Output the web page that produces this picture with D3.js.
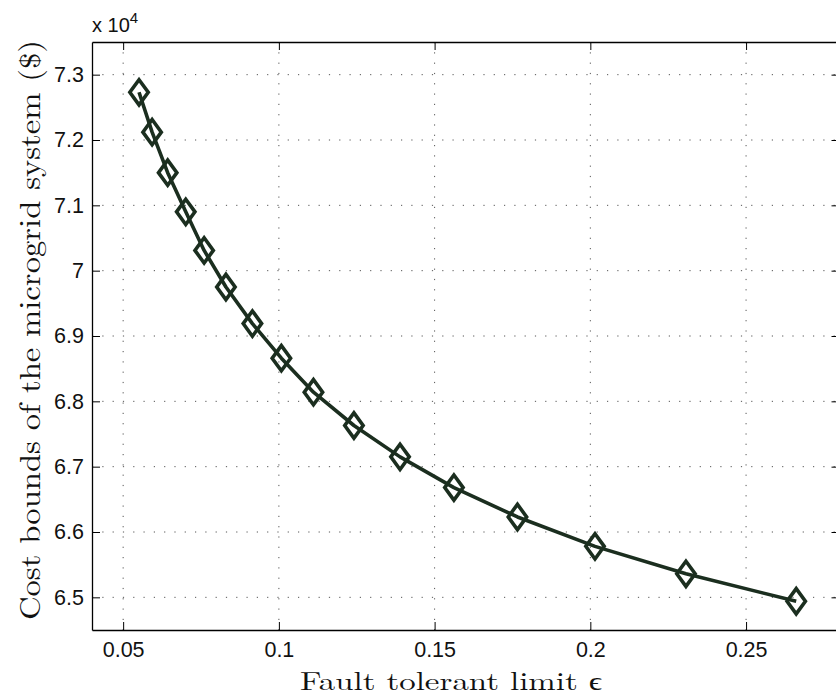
<!DOCTYPE html>
<html>
<head>
<meta charset="utf-8">
<script src="https://cdn.jsdelivr.net/npm/d3@7"></script>
<style>
  body { margin: 0; background: #fff; }
  svg { display: block; }
</style>
</head>
<body>
<div id="chart"></div>
<script>
// Fault tolerant limit vs cost bound (values in units of 10^4 $)
const epsilon = [0.0551, 0.0593, 0.0643, 0.0701, 0.0760, 0.0830, 0.0915, 0.1008,
                 0.1111, 0.1241, 0.1389, 0.1562, 0.1766, 0.2015, 0.2307, 0.2661];
const costBound = [7.273, 7.212, 7.150, 7.090, 7.031, 6.975, 6.919, 6.866,
                   6.814, 6.763, 6.715, 6.668, 6.623, 6.578, 6.536, 6.494];
const xTicks = [0.05, 0.1, 0.15, 0.2, 0.25];
const yTicks = [6.5, 6.6, 6.7, 6.8, 6.9, 7, 7.1, 7.2, 7.3];

{
    const width = 836, height = 697;
    const margin = { top: 42, left: 92, bottom: 67, right: -3.5 };
    const innerWidth = width - margin.left - margin.right;
    const innerHeight = height - margin.top - margin.bottom;
    const ink = "#1b2e1f";

    const svg = d3.select("#chart").append("svg")
        .attr("width", width)
        .attr("height", height);

    const g = svg.append("g")
        .attr("transform", `translate(${margin.left},${margin.top})`);

    const x = d3.scaleLinear().domain([0.04, 0.28]).range([0, innerWidth]);
    const y = d3.scaleLinear().domain([6.45, 7.35]).range([innerHeight, 0]);

    // dotted grid
    g.append("g").selectAll("line")
        .data(xTicks)
        .join("line")
        .attr("x1", d => x(d)).attr("x2", d => x(d))
        .attr("y1", 0).attr("y2", innerHeight)
        .attr("stroke", "#555").attr("stroke-width", 1)
        .attr("stroke-dasharray", "1.2,9.1");
    g.append("g").selectAll("line")
        .data(yTicks)
        .join("line")
        .attr("x1", 0).attr("x2", innerWidth)
        .attr("y1", d => y(d)).attr("y2", d => y(d))
        .attr("stroke", "#555").attr("stroke-width", 1)
        .attr("stroke-dasharray", "1.2,9.1");

    // axes (ticks point inward, box style)
    const tickLen = 8;
    const fmt = d => String(+d.toFixed(2));
    const font = "'Liberation Sans', Arial, Helvetica, sans-serif";

    const xAxis = g.append("g")
        .attr("transform", `translate(0,${innerHeight})`)
        .call(d3.axisBottom(x).tickValues(xTicks).tickFormat(fmt)
            .tickSizeInner(-tickLen).tickSizeOuter(0).tickPadding(12));
    const xTop = g.append("g")
        .call(d3.axisTop(x).tickValues(xTicks).tickFormat("")
            .tickSizeInner(-tickLen).tickSizeOuter(0));
    const yAxis = g.append("g")
        .call(d3.axisLeft(y).tickValues(yTicks).tickFormat(fmt)
            .tickSizeInner(-tickLen).tickSizeOuter(0).tickPadding(8));
    const yRight = g.append("g")
        .attr("transform", `translate(${innerWidth},0)`)
        .call(d3.axisRight(y).tickValues(yTicks).tickFormat("")
            .tickSizeInner(-tickLen).tickSizeOuter(0));

    [xAxis, xTop, yAxis, yRight].forEach(a => {
        a.select(".domain").attr("stroke", "#000").attr("stroke-width", 1.3);
        a.selectAll(".tick line").attr("stroke", "#000").attr("stroke-width", 1);
        a.selectAll("text")
            .attr("fill", "#111")
            .style("font-family", font)
            .style("font-size", "21.5px");
    });

    // exponent label
    const expo = svg.append("text")
        .attr("x", margin.left)
        .attr("y", 32)
        .attr("fill", "#111")
        .style("font-family", font)
        .style("font-size", "20px");
    expo.append("tspan").text("x 10");
    expo.append("tspan").attr("dy", -9).style("font-size", "15px").text("4");

    // curve
    const pts = epsilon.map((e, i) => [e, costBound[i]]);
    g.append("path")
        .datum(pts)
        .attr("fill", "none")
        .attr("stroke", ink)
        .attr("stroke-width", 3.6)
        .attr("stroke-linejoin", "round")
        .attr("d", d3.line().x(d => x(d[0])).y(d => y(d[1])));

    // diamond markers
    const hw = 9.2, hh = 12.6;
    g.append("g").selectAll("path")
        .data(pts)
        .join("path")
        .attr("transform", d => `translate(${x(d[0])},${y(d[1])})`)
        .attr("d", `M0,${-hh}L${hw},0L0,${hh}L${-hw},0Z`)
        .attr("fill", "none")
        .attr("stroke", ink)
        .attr("stroke-width", 3.6)
        .attr("stroke-linejoin", "miter");

    // axis titles
    const serif = "'Latin Modern Roman', 'CMU Serif', 'Liberation Serif', 'DejaVu Serif', serif";
    svg.append("text")
        .attr("x", 451)
        .attr("y", 690)
        .attr("text-anchor", "middle")
        .attr("fill", "#111")
        .attr("textLength", 302)
        .attr("lengthAdjust", "spacingAndGlyphs")
        .style("font-family", serif)
        .style("font-size", "26px")
        .text("Fault tolerant limit \u03F5");

    svg.append("text")
        .attr("transform", "translate(40,330) rotate(-90)")
        .attr("text-anchor", "middle")
        .attr("fill", "#111")
        .attr("textLength", 580)
        .attr("lengthAdjust", "spacingAndGlyphs")
        .style("font-family", serif)
        .style("font-size", "29px")
        .text("Cost bounds of the microgrid system ($)");
}
</script>
</body>
</html>
